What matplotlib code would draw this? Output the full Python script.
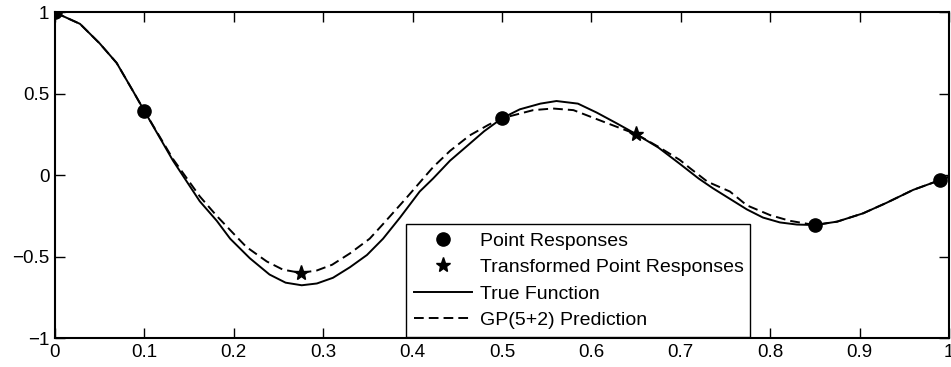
import matplotlib
matplotlib.use("Agg")
import matplotlib.pyplot as plt

plt.rcParams['font.family'] = ['Liberation Sans', 'DejaVu Sans']

# true function
x_true = [0.000, 0.028, 0.050, 0.069, 0.087, 0.100, 0.132, 0.162, 0.181, 0.196,
          0.218, 0.240, 0.258, 0.276, 0.293, 0.311, 0.330, 0.349, 0.367, 0.386,
          0.408, 0.423, 0.442, 0.460, 0.480, 0.500, 0.520, 0.543, 0.561, 0.585,
          0.606, 0.628, 0.650, 0.675, 0.699, 0.720, 0.736, 0.755, 0.774, 0.792,
          0.811, 0.830, 0.850, 0.875, 0.904, 0.930, 0.960, 0.990, 1.000]
y_true = [1.00, 0.93, 0.81, 0.69, 0.52, 0.395, 0.09, -0.16, -0.28, -0.39,
          -0.51, -0.61, -0.66, -0.676, -0.665, -0.63, -0.565, -0.49, -0.39, -0.26,
          -0.10, -0.02, 0.09, 0.175, 0.27, 0.35, 0.405, 0.44, 0.456, 0.44,
          0.385, 0.32, 0.253, 0.17, 0.07, -0.02, -0.08, -0.145, -0.21, -0.26,
          -0.29, -0.303, -0.306, -0.285, -0.234, -0.17, -0.09, -0.03, -0.01]

# GP(5+2) prediction
x_gp = [0.000, 0.028, 0.050, 0.069, 0.087, 0.100, 0.132, 0.162, 0.181, 0.200,
        0.214, 0.237, 0.255, 0.275, 0.293, 0.310, 0.330, 0.352, 0.367, 0.393,
        0.423, 0.442, 0.464, 0.485, 0.500, 0.535, 0.557, 0.580, 0.613, 0.632,
        0.650, 0.675, 0.699, 0.710, 0.730, 0.755, 0.774, 0.800, 0.822, 0.850,
        0.875, 0.904, 0.930, 0.960, 0.990, 1.000]
y_gp = [1.00, 0.93, 0.81, 0.69, 0.52, 0.395, 0.10, -0.13, -0.25, -0.36,
        -0.44, -0.53, -0.58, -0.60, -0.585, -0.55, -0.48, -0.39, -0.30, -0.14,
        0.05, 0.15, 0.245, 0.31, 0.35, 0.40, 0.41, 0.40, 0.33, 0.29,
        0.253, 0.175, 0.094, 0.045, -0.04, -0.10, -0.185, -0.245, -0.28, -0.306,
        -0.285, -0.234, -0.17, -0.09, -0.03, -0.01]

# sample points
x_points = [0.0, 0.1, 0.5, 0.85, 0.99]
y_points = [1.0, 0.395, 0.35, -0.306, -0.03]
x_trans = [0.275, 0.65]
y_trans = [-0.60, 0.253]

x_ticks = [0, 0.1, 0.2, 0.3, 0.4, 0.5, 0.6, 0.7, 0.8, 0.9, 1]
x_tick_labels = ['0', '0.1', '0.2', '0.3', '0.4', '0.5', '0.6', '0.7', '0.8', '0.9', '1']
y_ticks = [-1, -0.5, 0, 0.5, 1]
y_tick_labels = ['\u22121', '\u22120.5', '0', '0.5', '1']

fig = plt.figure(figsize=(9.51, 3.67), dpi=100)
ax = fig.add_axes([0.0578, 0.079, 0.940, 0.887])

ax.plot(x_points, y_points, 'o', color='black', markersize=9.5, label='Point Responses', zorder=4)
ax.plot(x_trans, y_trans, '*', color='black', markersize=11, label='Transformed Point Responses', zorder=4)
ax.plot(x_true, y_true, '-', color='black', lw=1.4, label='True Function', zorder=3,
        solid_joinstyle='round')
ax.plot(x_gp, y_gp, color='black', lw=1.4, linestyle=(0, (5, 2.6)), label='GP(5+2) Prediction',
        zorder=3)

ax.set_xlim(0, 1)
ax.set_ylim(-1, 1)
ax.set_xticks(x_ticks)
ax.set_xticklabels(x_tick_labels)
ax.set_yticks(y_ticks)
ax.set_yticklabels(y_tick_labels)
ax.tick_params(direction='in', length=7, width=1, top=True, right=True, labelsize=13.5, pad=4)
for s in ax.spines.values():
    s.set_linewidth(1.5)

leg = ax.legend(loc='lower left', bbox_to_anchor=(0.393, 0.004, 0.385, 0.361), mode='expand',
                fontsize=14, frameon=True, fancybox=False, framealpha=1, edgecolor='black',
                handlelength=3, handletextpad=0.4, labelspacing=0.45, borderpad=0.4,
                borderaxespad=0)
leg.get_frame().set_linewidth(1.0)

fig.savefig('out.png', dpi=100)
